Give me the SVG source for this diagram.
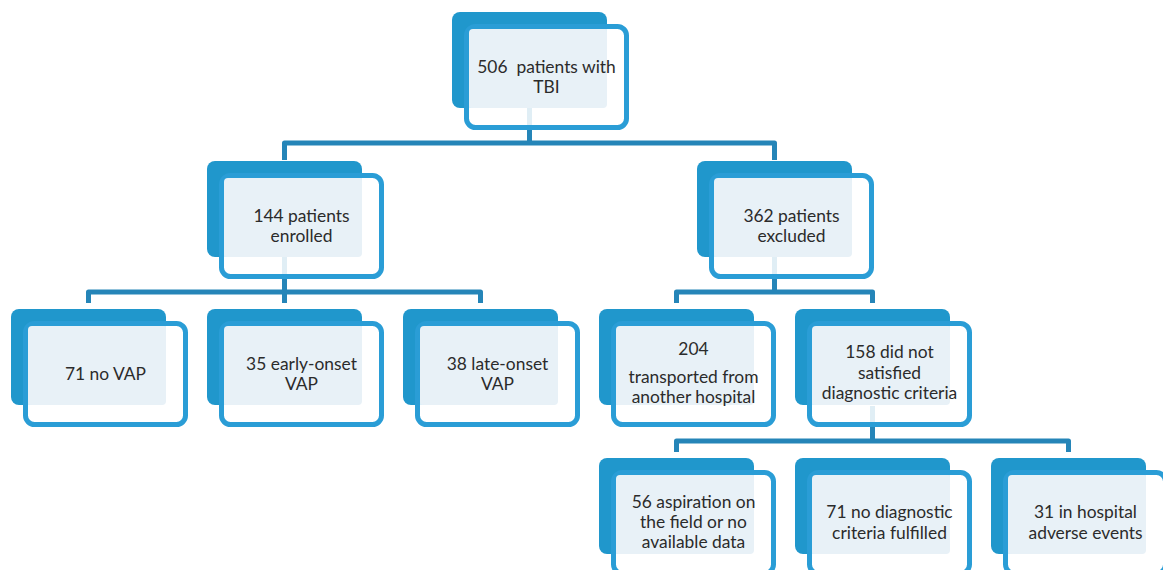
<svg xmlns="http://www.w3.org/2000/svg" width="1163" height="570" viewBox="0 0 1163 570">
<defs>
<style>
.back{fill:#2097CC;}
.front{fill:#ffffff;fill-opacity:0.86;stroke:#2A9DD6;stroke-width:5;}
.light{fill:#E8F1F7;}
.conn{fill:none;stroke:#2585B8;stroke-width:5;stroke-linejoin:round;}
text{font-family:Lato,"Liberation Sans",sans-serif;font-size:17.4px;fill:#2b2b2b;text-anchor:middle;}
</style>
</defs>
<rect width="1163" height="570" fill="#ffffff"/>
<g id="connectors">
<path class="conn" d="M529.5,108 V143"/>
<path class="conn" d="M284.5,160 V143 H774.5 V160"/>
<path class="conn" d="M284.5,257 V303"/>
<path class="conn" d="M88.5,303 V292 H480.5 V303"/>
<path class="conn" d="M774.5,257 V292"/>
<path class="conn" d="M676.5,303 V292 H872.5 V303"/>
<path class="conn" d="M872.5,406 V441"/>
<path class="conn" d="M676.5,452 V441 H1068.5 V452"/>
</g>
<g id="n506" transform="translate(452,12)">
<rect class="back" width="155" height="96" rx="8"/>
<rect class="front" x="14.5" y="14.5" width="160" height="101" rx="9"/>
<rect class="light" x="17" y="17" width="138" height="79" rx="4"/>
<text x="94.5" y="60.5">506&#160; patients with</text>
<text x="94.5" y="81">TBI</text>
</g>
<g id="n144" transform="translate(207,161)">
<rect class="back" width="155" height="96" rx="8"/>
<rect class="front" x="14.5" y="14.5" width="160" height="101" rx="9"/>
<rect class="light" x="17" y="17" width="138" height="79" rx="4"/>
<text x="94.5" y="60.5">144 patients</text>
<text x="94.5" y="81">enrolled</text>
</g>
<g id="n362" transform="translate(697,161)">
<rect class="back" width="155" height="96" rx="8"/>
<rect class="front" x="14.5" y="14.5" width="160" height="101" rx="9"/>
<rect class="light" x="17" y="17" width="138" height="79" rx="4"/>
<text x="94.5" y="60.5">362 patients</text>
<text x="94.5" y="81">excluded</text>
</g>
<g id="n71novap" transform="translate(11,309)">
<rect class="back" width="155" height="96" rx="8"/>
<rect class="front" x="14.5" y="14.5" width="160" height="101" rx="9"/>
<rect class="light" x="17" y="17" width="138" height="79" rx="4"/>
<text x="94.5" y="71">71 no VAP</text>
</g>
<g id="n35" transform="translate(207,309)">
<rect class="back" width="155" height="96" rx="8"/>
<rect class="front" x="14.5" y="14.5" width="160" height="101" rx="9"/>
<rect class="light" x="17" y="17" width="138" height="79" rx="4"/>
<text x="94.5" y="60.5">35 early-onset</text>
<text x="94.5" y="81">VAP</text>
</g>
<g id="n38" transform="translate(403,309)">
<rect class="back" width="155" height="96" rx="8"/>
<rect class="front" x="14.5" y="14.5" width="160" height="101" rx="9"/>
<rect class="light" x="17" y="17" width="138" height="79" rx="4"/>
<text x="94.5" y="60.5">38 late-onset</text>
<text x="94.5" y="81">VAP</text>
</g>
<g id="n204" transform="translate(599,309)">
<rect class="back" width="155" height="96" rx="8"/>
<rect class="front" x="14.5" y="14.5" width="160" height="101" rx="9"/>
<rect class="light" x="17" y="17" width="138" height="79" rx="4"/>
<text x="94.5" y="46">204</text>
<text x="94.5" y="74">transported from</text>
<text x="94.5" y="94">another hospital</text>
</g>
<g id="n158" transform="translate(795,309)">
<rect class="back" width="155" height="96" rx="8"/>
<rect class="front" x="14.5" y="14.5" width="160" height="101" rx="9"/>
<rect class="light" x="17" y="17" width="138" height="79" rx="4"/>
<text x="94.5" y="49">158 did not</text>
<text x="94.5" y="70">satisfied</text>
<text x="94.5" y="90">diagnostic criteria</text>
</g>
<g id="n56" transform="translate(599,458)">
<rect class="back" width="155" height="96" rx="8"/>
<rect class="front" x="14.5" y="14.5" width="160" height="101" rx="9"/>
<rect class="light" x="17" y="17" width="138" height="79" rx="4"/>
<text x="94.5" y="50">56 aspiration on</text>
<text x="94.5" y="70">the field or no</text>
<text x="94.5" y="90">available data</text>
</g>
<g id="n71nodiag" transform="translate(795,458)">
<rect class="back" width="155" height="96" rx="8"/>
<rect class="front" x="14.5" y="14.5" width="160" height="101" rx="9"/>
<rect class="light" x="17" y="17" width="138" height="79" rx="4"/>
<text x="94.5" y="59.5">71 no diagnostic</text>
<text x="94.5" y="81">criteria fulfilled</text>
</g>
<g id="n31" transform="translate(991,458)">
<rect class="back" width="155" height="96" rx="8"/>
<rect class="front" x="14.5" y="14.5" width="160" height="101" rx="9"/>
<rect class="light" x="17" y="17" width="138" height="79" rx="4"/>
<text x="94.5" y="59.5">31 in hospital</text>
<text x="94.5" y="80.5">adverse events</text>
</g>
</svg>
